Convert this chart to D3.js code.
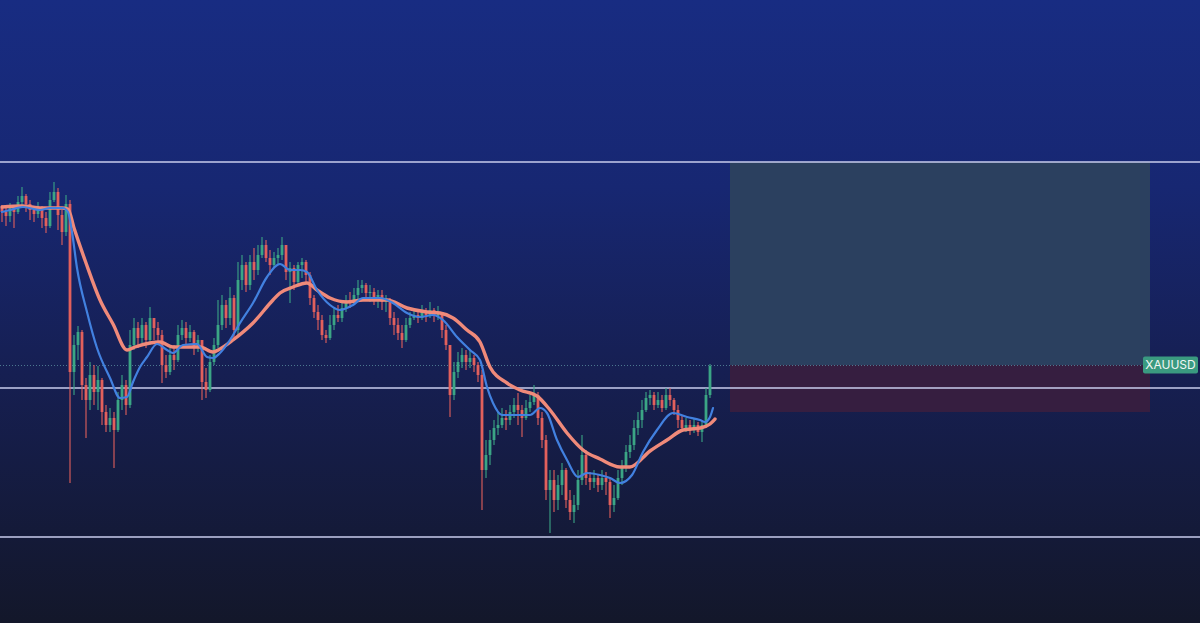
<!DOCTYPE html>
<html>
<head>
<meta charset="utf-8">
<script src="https://cdn.jsdelivr.net/npm/d3@7"></script>
<style>
html,body{margin:0;padding:0;background:#14182a;}
svg{display:block;}
</style>
</head>
<body>
<svg id="chart" width="1200" height="623"></svg>
<script>
// ---- DATA (XAUUSD, one value per bar) ----
const symbol = "XAUUSD";
const firstOpen = 2392;
const closes = [2388,2384,2392,2388,2398,2404,2396,2390,2386,2392,2382,2374,2400,2408,2385,2368,2396,2228,2255,2268,
2215,2200,2225,2208,2220,2188,2175,2182,2170,2200,2215,2195,2255,2272,2262,2275,2260,2282,2272,2265,
2235,2228,2245,2240,2265,2272,2262,2268,2252,2260,2218,2210,2238,2255,2275,2295,2282,2302,2270,2320,
2335,2315,2338,2330,2345,2355,2342,2335,2342,2345,2355,2328,2332,2318,2335,2338,2325,2302,2288,2280,
2265,2262,2275,2285,2282,2292,2300,2298,2305,2312,2315,2307,2308,2302,2305,2298,2300,2282,2275,2267,
2260,2275,2282,2285,2282,2288,2285,2290,2284,2288,2270,2255,2205,2228,2238,2245,2238,2242,2235,2225,
2130,2145,2160,2172,2175,2182,2180,2188,2195,2190,2182,2192,2198,2205,2182,2160,2110,2120,2100,2115,
2130,2100,2088,2095,2120,2145,2122,2118,2122,2115,2122,2118,2095,2102,2122,2132,2148,2155,2172,2180,
2190,2202,2205,2195,2200,2192,2205,2200,2190,2180,2172,2175,2170,2175,2168,2175,2205,2234];
const highs = [2395,2392,2397,2394,2404,2413,2406,2400,2394,2398,2394,2388,2408,2418,2412,2390,2405,2400,2265,2274,
2270,2222,2238,2235,2234,2222,2195,2192,2188,2208,2225,2220,2270,2282,2278,2282,2278,2293,2282,2278,
2270,2245,2252,2255,2275,2280,2278,2275,2270,2265,2260,2232,2245,2262,2300,2305,2300,2313,2305,2338,
2345,2338,2345,2352,2355,2363,2360,2350,2348,2352,2363,2355,2338,2335,2338,2342,2340,2328,2305,2295,
2285,2270,2285,2292,2295,2300,2305,2308,2312,2320,2320,2317,2315,2312,2310,2310,2305,2302,2288,2282,
2275,2282,2288,2292,2290,2295,2292,2298,2292,2294,2288,2275,2255,2238,2248,2252,2250,2250,2245,2238,
2230,2160,2170,2180,2188,2192,2190,2195,2202,2207,2195,2200,2205,2215,2208,2188,2165,2130,2130,2125,
2137,2132,2110,2105,2130,2165,2150,2128,2130,2125,2130,2128,2122,2115,2130,2140,2155,2165,2180,2188,
2200,2208,2210,2208,2208,2205,2212,2212,2202,2195,2185,2182,2180,2182,2178,2180,2212,2236];
const lows = [2378,2374,2378,2372,2386,2394,2388,2380,2378,2382,2372,2367,2372,2398,2370,2355,2364,2117,2205,2240,
2200,2162,2190,2195,2190,2175,2168,2168,2132,2168,2190,2185,2192,2250,2252,2257,2252,2255,2260,2255,
2217,2222,2225,2230,2238,2260,2255,2258,2245,2248,2200,2202,2208,2235,2252,2270,2272,2275,2262,2265,
2310,2308,2310,2320,2325,2342,2338,2325,2332,2335,2340,2320,2297,2310,2315,2322,2318,2295,2282,2270,
2260,2257,2260,2270,2278,2278,2288,2292,2295,2300,2307,2302,2298,2295,2292,2290,2288,2275,2265,2260,
2252,2258,2272,2280,2277,2280,2278,2282,2278,2280,2262,2250,2183,2200,2222,2232,2230,2232,2228,2218,
2090,2122,2135,2155,2165,2172,2170,2175,2182,2175,2163,2180,2188,2195,2175,2152,2100,2067,2088,2090,
2105,2092,2080,2077,2090,2115,2115,2110,2112,2108,2110,2105,2082,2088,2100,2115,2128,2142,2150,2165,
2172,2188,2195,2190,2192,2188,2190,2194,2185,2172,2168,2168,2165,2167,2164,2158,2172,2202];

// Moving averages (bar index, price)
const fastMaIdx = [0,2,5.25,9.5,12,15.25,16.5,17.5,18.75,21.25,23.75,27,29.5,31.25,32.75,34.5,36.25,38.75,41.25,42.75,
45.25,48.75,51.25,52.75,54.5,57,59.5,62.75,66.25,69.5,72,74.5,76.25,78.75,82,84.5,87.75,90.25,94.5,97.75,
101.25,104.5,107.75,110.25,113.75,117,119.5,121.25,122.75,125,128.75,132,134.5,136.25,138.75,141.25,144,146.25,149.5,152,
154.5,157.5,160.25,163.75,167.75,171.25,174.5,175.75,177,177.75];
const fastMa = [2388,2390,2393,2390,2392,2392,2388,2368,2332,2288,2252,2222,2202,2203,2218,2233,2243,2256,2250,2247,
2255,2256,2243,2242,2247,2260,2277,2297,2323,2336,2330,2330,2328,2310,2295,2290,2295,2302,2302,2297,
2287,2283,2285,2280,2263,2250,2240,2213,2197,2185,2185,2185,2192,2187,2160,2140,2123,2127,2125,2122,
2117,2125,2148,2170,2187,2183,2180,2178,2183,2192];
const slowMaIdx = [0,5,10,15,16.5,18,21,24.5,27.75,31.25,33.25,37,39.5,42.75,49.5,52.75,54.5,57.75,62.75,67.75,
69.5,72.75,76.25,78.75,82,86.25,90.25,96.25,101.25,106.25,109.5,112.75,116.25,119.5,122,126.25,129.5,133.75,137,141.25,
145.25,149.5,154.5,157,162,166.25,170.25,174.5,177,178.25];
const slowMa = [2393,2394,2392,2392,2391,2372,2337,2300,2276,2250,2253,2257,2258,2253,2253,2248,2251,2260,2277,2300,
2307,2313,2317,2310,2302,2298,2300,2300,2292,2288,2287,2282,2270,2258,2233,2217,2210,2204,2190,2167,
2150,2141,2133,2133,2149,2160,2170,2172,2176,2181];

// Horizontal levels and the long-position tool
const levels = [2438, 2212, 2063];
const entryPrice = 2235;
const targetPrice = 2438;
const stopPrice = 2188;
const positionStart = 182;
const positionEnd = 287;

// ---- DRAWING ----
const W = 1200, H = 623;
const svg = d3.select("#chart");
const x = d3.scaleLinear().domain([-0.5, 299.5]).range([0, W]);
const y = d3.scaleLinear().domain([1977, 2600]).range([H, 0]);

const defs = svg.append("defs");
const bg = defs.append("linearGradient").attr("id","bg").attr("x1",0).attr("y1",0).attr("x2",0).attr("y2",1);
[[0,"#182c82"],[0.3,"#172772"],[0.6,"#161f52"],[1,"#13172a"]].forEach(s=>bg.append("stop").attr("offset",s[0]).attr("stop-color",s[1]));
svg.append("rect").attr("width",W).attr("height",H).attr("fill","url(#bg)");

// position box
svg.append("rect").attr("x",x(positionStart)).attr("width",x(positionEnd)-x(positionStart))
  .attr("y",y(targetPrice)).attr("height",y(entryPrice)-y(targetPrice)).attr("fill","#2b405f");
svg.append("rect").attr("x",x(positionStart)).attr("width",x(positionEnd)-x(positionStart))
  .attr("y",y(entryPrice)).attr("height",y(stopPrice)-y(entryPrice)).attr("fill","#361e40");

// entry dotted line
svg.append("line").attr("x1",0).attr("x2",1143).attr("y1",y(entryPrice)+0.5).attr("y2",y(entryPrice)+0.5)
  .attr("stroke","#5a8ea0").attr("stroke-width",1).attr("stroke-dasharray","1,2").attr("opacity",0.8);

// horizontal levels
svg.selectAll("line.level").data(levels).join("line").attr("class","level")
  .attr("x1",0).attr("x2",W).attr("y1",d=>y(d)).attr("y2",d=>y(d))
  .attr("stroke","#c9cdec").attr("stroke-width",1.5);

// candles
const bars = closes.map((c,i)=>{
  const o = i===0 ? firstOpen : closes[i-1];
  return {i, o, c, h: highs[i], l: lows[i]};
});
const up = "#3ba585", dn = "#e2605c";
const cg = svg.append("g");
cg.selectAll("line").data(bars).join("line")
  .attr("x1",d=>x(d.i)).attr("x2",d=>x(d.i))
  .attr("y1",d=>y(Math.max(d.h,d.o,d.c))).attr("y2",d=>y(Math.min(d.l,d.o,d.c)))
  .attr("stroke",d=>d.c>=d.o?up:dn).attr("stroke-width",1.1);
cg.selectAll("rect").data(bars).join("rect")
  .attr("x",d=>x(d.i)-1.4).attr("width",2.8)
  .attr("y",d=>y(Math.max(d.o,d.c))).attr("height",d=>Math.max(1,Math.abs(y(d.o)-y(d.c))))
  .attr("fill",d=>d.c>=d.o?up:dn);

// moving averages
const line = d3.line().x(d=>x(d[0])).y(d=>y(d[1])).curve(d3.curveMonotoneX);
svg.append("path").datum(slowMaIdx.map((v,i)=>[v,slowMa[i]])).attr("d",line)
  .attr("fill","none").attr("stroke","#f08a7a").attr("stroke-width",3.4).attr("stroke-linecap","round");
svg.append("path").datum(fastMaIdx.map((v,i)=>[v,fastMa[i]])).attr("d",line)
  .attr("fill","none").attr("stroke","#4281e0").attr("stroke-width",2.2).attr("stroke-linecap","round");

// symbol label
const lg = svg.append("g").attr("transform",`translate(1143,${y(entryPrice)-8.5})`);
lg.append("rect").attr("width",55).attr("height",17).attr("rx",2).attr("fill","#3a9a80");
lg.append("text").attr("x",27.5).attr("y",12.5).attr("text-anchor","middle")
  .attr("font-family","Inter, 'Open Sans', sans-serif").attr("font-size",12).attr("fill","#f2f6f4").text(symbol);
</script>
</body>
</html>
